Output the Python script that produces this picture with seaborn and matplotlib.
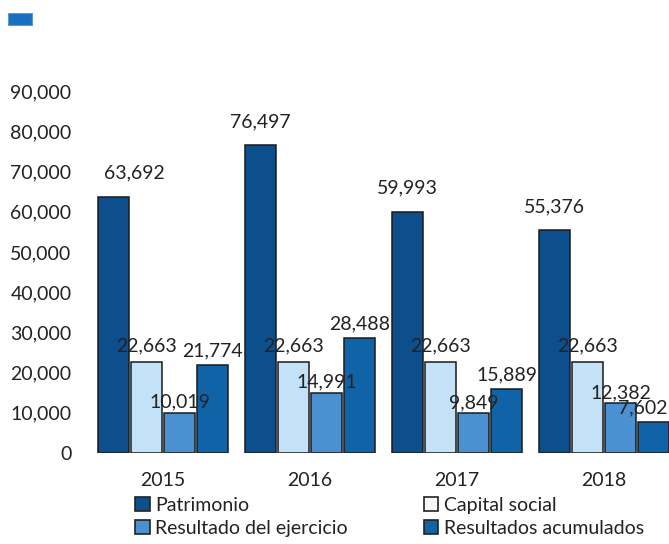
import matplotlib
matplotlib.use("Agg")
import matplotlib.pyplot as plt
import matplotlib.patches as mpatches
import seaborn as sns
import pandas as pd
from matplotlib.ticker import FuncFormatter, MultipleLocator

years = ["2015", "2016", "2017", "2018"]
series = ["Patrimonio", "Capital social", "Resultado del ejercicio", "Resultados acumulados"]
patrimonio = [63692, 76497, 59993, 55376]
capital_social = [22663, 22663, 22663, 22663]
resultado_ejercicio = [10019, 14991, 9849, 12382]
resultados_acumulados = [21774, 28488, 15889, 7602]

values = [patrimonio, capital_social, resultado_ejercicio, resultados_acumulados]
rows = []
for s, vals in zip(series, values):
    for y, v in zip(years, vals):
        rows.append({"Año": y, "Serie": s, "Valor": v})
df = pd.DataFrame(rows)

colors = ["#0d4e8c", "#c4e2f7", "#4b90d1", "#1163a8"]
label_pads = [11, 5.5, 1.5, 4]

sns.set_theme(style="white")
plt.rcParams["font.family"] = ["Lato", "DejaVu Sans"]

W, H = 669, 544
fig = plt.figure(figsize=(W / 100, H / 100), dpi=100)
left, right, bottom, top = 89.5, 669, 453, 91
ax = fig.add_axes([left / W, 1 - bottom / H, (right - left) / W, (bottom - top) / H])

sns.barplot(data=df, x="Año", y="Valor", hue="Serie", hue_order=series, order=years,
            palette=colors, saturation=1, width=0.9, gap=0.06, edgecolor="#1a1a1a",
            linewidth=1.1, ax=ax, legend=True)

ax.set_xlim(-0.5, (right - 163) / 147)
ax.set_ylim(0, 90000)
ax.yaxis.set_major_locator(MultipleLocator(10000))
ax.yaxis.set_major_formatter(FuncFormatter(lambda v, p: f"{int(v):,}"))
ax.set_xlabel("")
ax.set_ylabel("")
for sp in ["top", "right", "left", "bottom"]:
    ax.spines[sp].set_visible(False)
ax.tick_params(axis="y", labelsize=14, colors="#222222", length=0, pad=13)
ax.tick_params(axis="x", labelsize=14, colors="#222222", length=0, pad=14)

for i, cont in enumerate(ax.containers):
    anns = ax.bar_label(cont, labels=[f"{v:,}" for v in values[i]], padding=label_pads[i],
                        fontsize=14, color="#222222")
    if i == 0:
        x0, y0 = anns[0].xyann
        anns[0].xyann = (x0 + 15, y0)
    if i == 3:
        x0, y0 = anns[3].xyann
        anns[3].xyann = (x0 - 8, y0)

leg = ax.get_legend()
if leg is not None:
    leg.remove()
handles = [mpatches.Patch(facecolor=c, edgecolor="#222222", linewidth=1.2) for c in colors]
handles[1] = mpatches.Patch(facecolor="#f4f8fb", edgecolor="#222222", linewidth=1.2)
order = [0, 2, 1, 3]
fig.legend([handles[i] for i in order], [series[i] for i in order], ncol=2,
           loc="upper left", bbox_to_anchor=(135 / W, 1 - 497 / H), frameon=False,
           fontsize=14, handlelength=0.75, handleheight=0.75, handletextpad=0.3,
           columnspacing=3.9, labelspacing=0.3, borderaxespad=0, borderpad=0,
           labelcolor="#222222")

# stray legend swatch at top-left
fig.patches.append(mpatches.Rectangle((8 / W, 1 - 25 / H), 24 / W, 12 / H,
                                      transform=fig.transFigure, facecolor="#1a6fbd",
                                      edgecolor="#5a9ad6", linewidth=0.8))

fig.savefig("out.png", dpi=100)
